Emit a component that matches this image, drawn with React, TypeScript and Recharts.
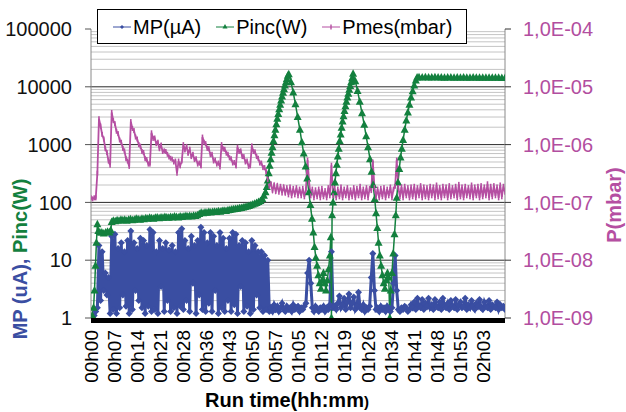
import React from 'react';
import { ComposedChart, Line, XAxis, YAxis, CartesianGrid, ReferenceLine } from 'recharts';

// ---- axis definitions ----
const tickLabels = [
  '00h00', '00h07', '00h14', '00h21', '00h28', '00h36', '00h43', '00h50', '00h57',
  '01h05', '01h12', '01h19', '01h26', '01h34', '01h41', '01h48', '01h55', '02h03',
];
const tickMinutes = [
  0, 7.24, 14.48, 21.72, 28.96, 36.2, 43.44, 50.68, 57.92,
  65.16, 72.4, 79.64, 86.88, 94.12, 101.36, 108.6, 115.84, 123.08,
];
const leftTicks = [1, 10, 100, 1000, 10000, 100000];
const leftTickLabels = ['1', '10', '100', '1000', '10000', '100000'];
const rightTicks = [1e-9, 1e-8, 1e-7, 1e-6, 1e-5, 1e-4];
const rightTickLabels = ['1,0E-09', '1,0E-08', '1,0E-07', '1,0E-06', '1,0E-05', '1,0E-04'];
const majorGrid = [10, 100, 1000, 10000];
const minorMultipliers = [2, 3, 4, 5, 6, 7, 8, 9];
const decades = [1, 10, 100, 1000, 10000];

// ---- logged data ----
const SAMPLE_MIN = 0.5; // logging period of MP and Pmes, minutes

// MP, µA, one value per sample
const mpMicroAmps = [
  1, 1, 1.1, 1.3, 1.5, 18, 2, 14, 3, 6,
  2.5, 5, 1.2, 26, 1.4, 28, 1.2, 16, 1.5, 20,
  2.5, 14, 1.6, 22, 1.2, 32, 1.4, 20, 3, 16,
  2, 24, 1.5, 22, 1.2, 18, 1.6, 34, 1.3, 30,
  1.4, 14, 1.2, 22, 3.5, 16, 1.3, 20, 2, 15,
  1.3, 18, 1.5, 14, 1.2, 30, 1.6, 35, 1.4, 22,
  2, 16, 1.3, 26, 4, 18, 1.2, 22, 2.5, 37,
  1.4, 30, 1.3, 20, 1.8, 30, 1.3, 26, 3, 18,
  1.2, 30, 1.5, 24, 1.3, 16, 2, 24, 1.3, 30,
  1.7, 28, 1.2, 18, 3.5, 22, 1.3, 20, 1.6, 14,
  1.2, 22, 1.4, 18, 2.5, 14, 1.5, 14, 1.3, 12,
  1.4, 10, 1.3,
  1.5, 1.3, 1.7, 1.4, 1.6, 1.3, 1.5, 1.8, 1.4, 1.3,
  1.6, 1.4, 1.5, 1.3, 1.7, 1.4, 1.5, 1.6, 1.3, 1.5,
  1.4, 1.6, 1.8, 6, 10, 4, 1.5, 1.3, 1.6, 1.4,
  1.3, 1.5, 1.4, 1.6, 1.3, 1.5, 1.4, 1.7, 14, 1.5,
  1.6, 1.4, 1.8, 2.4, 1.5, 1.7, 2.2, 1.4, 1.9, 2.6,
  1.5, 1.8, 2.3, 1.4, 1.6, 2.8, 1.5, 1.4, 1.7, 1.3,
  1.5, 1.4, 1.6, 5, 13, 3, 1.4, 1.5, 1.3, 1.6,
  1.4, 1.5, 1.3, 1.6, 1.4, 1.3, 1.5, 4, 12, 3,
  1.4, 1.3, 1.5, 1.4, 1.6, 1.5, 1.3, 1.4, 1.7, 1.5,
  1.9, 1.4, 2.2, 1.6, 1.5, 2.1, 1.4, 1.8, 1.6, 2.2,
  1.5, 1.7, 1.4, 2.1, 1.6, 1.5, 1.9, 1.4, 2.2, 1.6,
  1.5, 1.8, 1.4, 2.0, 1.6, 1.5, 2.1, 1.4, 1.7, 1.9,
  1.5, 1.6, 2.2, 1.4, 1.7, 1.5, 2.0, 1.6, 1.4, 1.8,
  1.6, 2.1, 1.5, 1.4, 1.9, 1.6, 1.5, 2.0, 1.4, 1.7,
  1.6, 1.5, 1.9, 1.4, 1.7, 1.5, 1.6, 1.4,
];

// Pmes, in units of 1e-7 mbar, one value per sample
const PMES_UNIT = 1e-7;
const pmesE7 = [
  1.2, 1.15, 1.2, 1.2, 3.2,
  28, 21, 15, 12.5, 8.5, 7.3, 5.2, 4.4,
  36, 26, 23, 17, 15.5, 12, 11, 8.6, 7.8, 5.7, 5.2, 4.2,
  25, 19, 17.5, 13.5, 12.5, 10, 9.4, 7.6, 7.3, 5.7, 5.5, 4.6, 4.6,
  16, 12.8, 13, 10.4, 11, 8.5, 9.8, 7.6, 7.8, 7.6, 6.8, 6.1, 5.8, 5.6, 5.0, 5.2, 3.2, 5.2, 4.3, 5.2,
  10, 8.1, 9.3, 7.1, 8.3, 6.2, 6.8, 5.5, 5.7, 4.6, 4.8, 4.3,
  13.5, 11, 10.4, 8.6, 8.5, 6.7, 6.8, 5.2, 5.4, 4.6, 4.8, 4.1,
  10, 8.4, 8.3, 7.1, 6.8, 5.9, 5.7, 4.8, 4.9, 4.3,
  9, 7.6, 7.8, 6.2, 6.2, 5, 5.2, 4.2, 4.3,
  9.5, 7.6, 7.5, 6.2, 5.8, 4.8, 4.8, 4, 4.0, 3.4, 2.5, 1.9,
  2.1, 1.6, 2.0, 1.55, 1.95, 1.5, 1.9, 1.45, 1.85, 1.45,
  1.8, 1.35, 1.85, 1.3, 1.75, 1.35, 1.8, 1.3, 1.7, 1.3,
  1.75, 1.25, 1.7, 5.4, 2.2, 1.3, 1.7, 1.2, 1.65, 1.25,
  1.7, 1.2, 1.75, 1.25, 1.6, 1.2, 1.8, 1.3, 4.4, 1.3,
  1.75, 1.2, 1.7, 1.25, 1.85, 1.2, 1.7, 1.3, 1.8, 1.2,
  1.65, 1.25, 1.8, 1.2, 1.75, 1.3, 1.9, 1.2, 1.7, 1.25,
  1.8, 1.2, 1.75, 1.6, 5.0, 1.8, 1.25, 1.7, 1.2, 1.75,
  1.25, 1.8, 1.2, 1.7, 1.3, 1.85, 1.2, 1.7, 1.9, 5.4,
  1.8, 1.25, 1.85, 1.2, 1.9, 1.3, 1.8, 1.2, 1.85, 1.25,
  1.9, 1.2, 1.8, 1.3, 1.95, 1.2, 1.85, 1.25, 1.8, 1.2,
  1.9, 1.3, 1.85, 1.2, 2.0, 1.25, 1.8, 1.2, 1.9, 1.3,
  1.85, 1.2, 1.95, 1.25, 1.8, 1.3, 1.9, 1.2, 2.05, 1.25,
  1.85, 1.2, 1.9, 1.3, 1.8, 1.25, 2.0, 1.2, 1.85, 1.3,
  1.9, 1.2, 1.95, 1.25, 1.85, 1.3, 2.1, 1.2, 1.9, 1.25,
  1.95, 1.3, 1.85, 1.2, 2.0, 1.25, 1.9, 1.5,
];

// Pinc, W: [minute, watts]
const pincWatts: [number, number][] = [
  [0, 1], [0.4, 1.1], [0.8, 1.5], [1.1, 3], [1.4, 8], [1.7, 20], [2, 42], [2.3, 32], [2.8, 30], [3.4, 30],
  [4, 29], [4.6, 30], [5.2, 31], [5.8, 30], [6.2, 33], [6.5, 46], [7, 48], [7.6, 47], [8.2, 49], [8.8, 48],
  [9.4, 50], [10, 49], [10.6, 50], [11.2, 48], [11.8, 50], [12.4, 51], [13, 49], [13.6, 50], [14.2, 52], [14.8, 51],
  [15.4, 50], [16, 52], [16.6, 51], [17.2, 53], [17.8, 52], [18.4, 54], [19, 53], [19.6, 52], [20.2, 54], [20.8, 55],
  [21.4, 53], [22, 55], [22.6, 54], [23.2, 56], [23.8, 55], [24.4, 54], [25, 56], [25.6, 55], [26.2, 57], [26.8, 56],
  [27.4, 55], [28, 57], [28.6, 56], [29.2, 57], [29.8, 58], [30.4, 57], [31, 58], [31.6, 57], [32.2, 59], [32.8, 58],
  [33.4, 60], [34, 63], [34.6, 66], [35.2, 65], [35.8, 67], [36.4, 66], [37, 68], [37.6, 67], [38.2, 68], [38.8, 69],
  [39.4, 68], [40, 70], [40.6, 69], [41.2, 71], [41.8, 72], [42.4, 71], [43, 73], [43.6, 74], [44.2, 75], [44.8, 76],
  [45.4, 77], [46, 78], [46.6, 79], [47.2, 80], [47.8, 82], [48.4, 83], [49, 85], [49.6, 87], [50.2, 89], [50.8, 92],
  [51.4, 95], [52, 98], [52.6, 102], [53.2, 106], [53.8, 115], [54.3, 130], [54.8, 150], [55.2, 185], [55.5, 240], [55.8, 320],
  [56.1, 430], [56.4, 560], [56.7, 720], [57, 900], [57.3, 1150], [57.6, 1450], [57.9, 1800], [58.2, 2250], [58.5, 2800], [58.8, 3400],
  [59.1, 4100], [59.4, 4900], [59.7, 5800], [60, 6800], [60.3, 7900], [60.6, 9100], [60.9, 10500], [61.2, 12000], [61.5, 13600], [61.8, 15500],
  [62.1, 16500], [62.8, 12000], [63.5, 8000], [64.2, 5000], [64.9, 3000], [65.6, 1800], [66.2, 1100], [66.8, 700], [67.4, 420], [67.9, 260],
  [68.4, 150], [68.9, 90], [69.4, 52], [69.8, 30], [70.2, 17], [70.6, 11], [71, 8], [71.4, 5.5], [71.8, 4], [72.2, 3.2],
  [72.6, 4.5], [73, 6], [73.4, 4], [73.8, 3], [74.2, 4.5], [74.6, 7], [75, 12], [75.3, 25], [75.5, 1], [75.7, 60],
  [76, 100], [76.3, 150], [76.6, 220], [76.9, 320], [77.2, 450], [77.5, 620], [77.8, 850], [78.1, 1150], [78.4, 1500], [78.7, 1950],
  [79, 2500], [79.3, 3100], [79.6, 3800], [79.9, 4600], [80.2, 5500], [80.5, 6500], [80.8, 7600], [81.1, 8900], [81.4, 10300], [81.7, 12000],
  [82, 14000], [82.3, 16800], [83, 12500], [83.7, 8500], [84.4, 5500], [85.1, 3500], [85.8, 2200], [86.4, 1400], [87, 900], [87.6, 560],
  [88.1, 340], [88.6, 200], [89.1, 115], [89.5, 65], [89.9, 36], [90.3, 20], [90.7, 12], [91.1, 8], [91.5, 5.5], [91.9, 4],
  [92.3, 3.2], [92.7, 4.5], [93.1, 6], [93.5, 5], [93.8, 1], [94.1, 3], [94.5, 6], [94.9, 13], [95.3, 28], [95.7, 60],
  [96, 120], [96.4, 220], [96.8, 380], [97.2, 600], [97.6, 850], [98, 1200], [98.5, 1800], [99, 2600], [99.5, 3600], [100, 4900],
  [100.5, 6500], [101, 8400], [101.5, 10500], [102, 12800], [102.4, 14500], [103, 14600], [104, 14500], [105, 14600], [106, 14500], [107, 14500],
  [108, 14600], [109, 14500], [110, 14500], [111, 14400], [112, 14500], [113, 14500], [114, 14400], [115, 14500], [116, 14400], [117, 14500],
  [118, 14400], [119, 14400], [120, 14500], [121, 14400], [122, 14400], [123, 14300], [124, 14400], [125, 14300], [126, 14400], [127, 14300],
  [128, 14300], [129, 14200], [130, 14200],
];

// ---- tables for the chart ----
const mpData = mpMicroAmps.map((v, i) => ({ t: i * SAMPLE_MIN, mp: v }));
const pmesData = pmesE7.map((v, i) => ({ t: i * SAMPLE_MIN, pmes: v * PMES_UNIT }));
const pincData = pincWatts.map(([t, v]) => ({ t, pinc: v }));
const minorGrid = decades.flatMap((d) => minorMultipliers.map((m) => m * d));

// ---- styling ----
const FONT = '"Liberation Sans", Arial, sans-serif';
const BLUE = '#3A4EA2';
const GREEN = '#13803E';
const PINK = '#B54FA2';
const PINK_TEXT = '#B24E9F';

const Diamond = (p: any) => {
  const { cx, cy } = p;
  if (cx == null || cy == null) return <g key={p.key} />;
  return <path key={p.key} d={`M${cx},${cy - 3.5}L${cx + 3.5},${cy}L${cx},${cy + 3.5}L${cx - 3.5},${cy}Z`} fill={BLUE} />;
};
const Triangle = (p: any) => {
  const { cx, cy } = p;
  if (cx == null || cy == null) return <g key={p.key} />;
  return <path key={p.key} d={`M${cx},${cy - 4.5}L${cx + 4},${cy + 3}L${cx - 4},${cy + 3}Z`} fill={GREEN} />;
};
const Tick = (p: any) => {
  const { cx, cy } = p;
  if (cx == null || cy == null) return <g key={p.key} />;
  return <rect key={p.key} x={cx - 0.8} y={cy - 2.5} width={1.6} height={5} fill={PINK} />;
};

const TimeTick = (props: any) => {
  const { x, y, payload } = props;
  const i = tickMinutes.indexOf(payload.value);
  const ty = y + 12;
  return (
    <text
      x={x}
      y={ty}
      transform={`rotate(-90, ${x}, ${ty})`}
      textAnchor="end"
      dy="0.36em"
      fontSize={19}
      fontFamily={FONT}
      fill="#000"
    >
      {i >= 0 ? tickLabels[i] : ''}
    </text>
  );
};

const leftLabel = (v: number) => {
  const i = leftTicks.findIndex((t) => Math.abs(Math.log10(t) - Math.log10(v)) < 1e-6);
  return i >= 0 ? leftTickLabels[i] : '';
};
const rightLabel = (v: number) => {
  const i = rightTicks.findIndex((t) => Math.abs(Math.log10(t) - Math.log10(v)) < 1e-6);
  return i >= 0 ? rightTickLabels[i] : '';
};

// thick black band along the bottom of the plot
const BottomBand = (p: any) => {
  const x1 = p.x1 ?? p.x ?? 91;
  const x2 = p.x2 ?? x1 + (p.width ?? 414);
  const y1 = p.y1 ?? p.y ?? 318;
  return <rect x={Math.min(x1, x2)} y={y1} width={Math.abs(x2 - x1)} height={5} fill="#000" />;
};

const legendItems = [
  { name: 'MP(µA)', color: BLUE, marker: 'diamond' },
  { name: 'Pinc(W)', color: GREEN, marker: 'triangle' },
  { name: 'Pmes(mbar)', color: PINK, marker: 'tick' },
];

const LegendBox = () => (
  <div
    style={{
      position: 'absolute',
      left: 97,
      top: 9,
      width: 370,
      height: 35,
      boxSizing: 'border-box',
      border: '1px solid #000',
      background: '#fff',
      display: 'flex',
      alignItems: 'center',
      paddingLeft: 15,
      fontFamily: FONT,
      fontSize: 20,
      color: '#000',
    }}
  >
    {legendItems.map((it, k) => (
      <div key={it.name} style={{ display: 'flex', alignItems: 'center', marginRight: k < 2 ? 15 : 0 }}>
        <svg width={18} height={10} style={{ marginRight: 2 }}>
          <line x1={0} y1={5} x2={18} y2={5} stroke={it.color} strokeWidth={1} />
          {it.marker === 'diamond' && <path d="M9,3L11,5L9,7L7,5Z" fill={it.color} />}
          {it.marker === 'triangle' && <path d="M9,2L11.5,6.5L6.5,6.5Z" fill={it.color} />}
          {it.marker === 'tick' && <rect x={8.3} y={2.5} width={1.4} height={5} fill={it.color} />}
        </svg>
        <span style={{ lineHeight: '20px' }}>{it.name}</span>
      </div>
    ))}
  </div>
);

const Titles = () => (
  <svg width={626} height={412} style={{ position: 'absolute', left: 0, top: 0, pointerEvents: 'none' }}>
    <text
      transform="translate(20,259) rotate(-90)"
      textAnchor="middle"
      dominantBaseline="central"
      fontFamily={FONT}
      fontWeight="bold"
      fontSize={20}
    >
      <tspan fill={BLUE}>MP (uA), </tspan>
      <tspan fill={GREEN}>Pinc(W)</tspan>
    </text>
    <text
      transform="translate(614,205) rotate(-90)"
      textAnchor="middle"
      dominantBaseline="central"
      fontFamily={FONT}
      fontWeight="bold"
      fontSize={20}
      fill={PINK}
    >
      P(mbar)
    </text>
    <text x={287} y={407} textAnchor="middle" fontFamily={FONT} fontWeight="bold" fontSize={20} fill="#000">
      Run time(hh:mm<tspan fontSize={15}>)</tspan>
    </text>
  </svg>
);

export default function App() {
  return (
    <div style={{ position: 'absolute', left: 0, top: 0, width: 626, height: 412, background: '#fff' }}>
      <ComposedChart
        width={626}
        height={412}
        margin={{ top: 29, right: 0, bottom: 0, left: 0 }}
        style={{ fontFamily: FONT }}
      >
        <CartesianGrid
          yAxisId="left"
          vertical={false}
          horizontalValues={minorGrid}
          stroke="#c4c4c4"
          strokeWidth={1}
        />
        <CartesianGrid
          yAxisId="left"
          vertical={false}
          horizontalValues={majorGrid}
          stroke="#2a2a2a"
          strokeWidth={1}
        />
        <XAxis
          type="number"
          dataKey="t"
          domain={[0, 130]}
          allowDataOverflow
          ticks={tickMinutes}
          interval={0}
          height={94}
          axisLine={false}
          tickLine={false}
          tickSize={0}
          tickMargin={0}
          tick={<TimeTick />}
        />
        <YAxis
          yAxisId="left"
          scale="log"
          domain={[1, 100000]}
          allowDataOverflow
          ticks={leftTicks}
          interval={0}
          width={91}
          tickSize={6}
          tickMargin={13}
          axisLine={{ stroke: '#8a8a8a' }}
          tickLine={{ stroke: '#555' }}
          tick={{ fontSize: 20, fill: '#111', fontFamily: FONT }}
          tickFormatter={leftLabel}
        />
        <YAxis
          yAxisId="right"
          orientation="right"
          scale="log"
          domain={[1e-9, 1e-4]}
          allowDataOverflow
          ticks={rightTicks}
          interval={0}
          width={121}
          tickSize={6}
          tickMargin={12}
          axisLine={{ stroke: '#8a8a8a' }}
          tickLine={{ stroke: '#333' }}
          tick={{ fontSize: 20, fill: PINK_TEXT, fontFamily: FONT }}
          tickFormatter={rightLabel}
        />
        <Line
          data={mpData}
          yAxisId="left"
          dataKey="mp"
          type="linear"
          stroke={BLUE}
          strokeWidth={3}
          dot={Diamond}
          activeDot={false}
          isAnimationActive={false}
          legendType="none"
        />
        <Line
          data={pincData}
          yAxisId="left"
          dataKey="pinc"
          type="linear"
          stroke={GREEN}
          strokeWidth={1.5}
          dot={Triangle}
          activeDot={false}
          isAnimationActive={false}
          legendType="none"
        />
        <Line
          data={pmesData}
          yAxisId="right"
          dataKey="pmes"
          type="linear"
          stroke={PINK}
          strokeWidth={1.8}
          dot={Tick}
          activeDot={false}
          isAnimationActive={false}
          legendType="none"
        />
        <ReferenceLine yAxisId="left" y={1} shape={BottomBand} />
      </ComposedChart>
      <LegendBox />
      <Titles />
    </div>
  );
}
